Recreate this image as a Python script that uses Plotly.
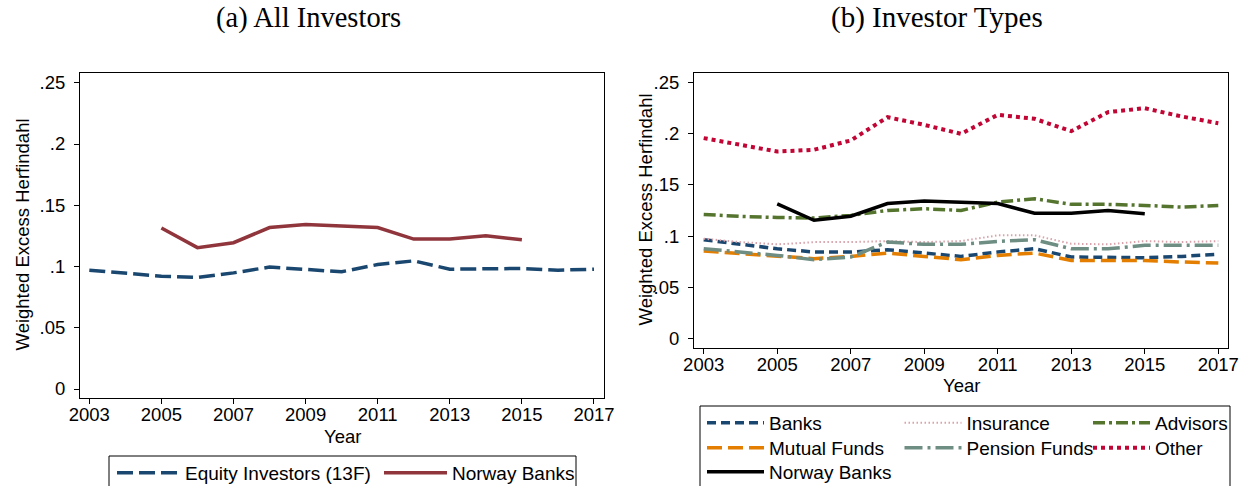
import plotly.graph_objects as go

years = list(range(2003, 2018))
years_nb = list(range(2005, 2016))

# Panel (a)
equity_13f = [0.0970, 0.0943, 0.0921, 0.0910, 0.0948, 0.0995, 0.0973, 0.0957,
              0.1016, 0.1046, 0.0978, 0.0980, 0.0984, 0.0970, 0.0978]
norway_banks = [0.1314, 0.1154, 0.1194, 0.1318, 0.1342, 0.1328, 0.1318,
                0.1224, 0.1224, 0.1250, 0.1219]

# Panel (b)
banks = [0.0964, 0.0919, 0.0876, 0.0844, 0.0844, 0.0866, 0.0834, 0.0801,
         0.0844, 0.0876, 0.0795, 0.0788, 0.0788, 0.0801, 0.0821]
insurance = [0.0974, 0.0941, 0.0919, 0.0941, 0.0941, 0.0951, 0.0941, 0.0951,
             0.1007, 0.1007, 0.0925, 0.0919, 0.0951, 0.0941, 0.0951]
advisors = [0.1212, 0.1192, 0.1182, 0.1176, 0.1202, 0.1251, 0.1267, 0.1251,
            0.1332, 0.1365, 0.1310, 0.1310, 0.1300, 0.1283, 0.1300]
mutual_funds = [0.0853, 0.0827, 0.0801, 0.0779, 0.0801, 0.0834, 0.0801, 0.0769,
                0.0811, 0.0834, 0.0762, 0.0762, 0.0762, 0.0746, 0.0736]
pension_funds = [0.0876, 0.0844, 0.0811, 0.0769, 0.0795, 0.0941, 0.0919, 0.0919,
                 0.0948, 0.0964, 0.0876, 0.0876, 0.0909, 0.0909, 0.0909]
other = [0.1958, 0.1896, 0.1827, 0.1844, 0.1935, 0.2163, 0.2088, 0.2000,
         0.2186, 0.2147, 0.2026, 0.2212, 0.2251, 0.2170, 0.2104]

ytick_vals = [0, 0.05, 0.1, 0.15, 0.2, 0.25]
ytick_text = ["0", ".05", ".1", ".15", ".2", ".25"]
xtick_vals = [2003, 2005, 2007, 2009, 2011, 2013, 2015, 2017]

W, H = 1245, 486
SANS = "Liberation Sans, Arial, sans-serif"
SERIF = "Liberation Serif, Times New Roman, serif"
FS = 18.5
LFS = 19


def px_x(v):
    return v / W


def px_y(v):
    return 1 - v / H


fig = go.Figure()

# Panel (a) traces: (name, x, y, line, legend id, legend item left px, row top px, itemwidth)
specs_a = [
    ("Equity Investors (13F)", years, equity_13f,
     dict(color="#1a476f", width=3.5, dash="16px,6px"), "legend", 112, 454, 63),
    ("Norway Banks", years_nb, norway_banks,
     dict(color="#90353b", width=3.5), "legend2", 379, 454, 63),
]
# Panel (b) traces
specs_b = [
    ("Banks", years, banks, dict(color="#1a476f", width=3.5, dash="9px,5px"),
     "legend3", 702, 404, 57),
    ("Insurance", years, insurance, dict(color="#d8a3aa", width=2, dash="1.5px,2.5px"),
     "legend4", 899.5, 404, 57),
    ("Advisors", years, advisors, dict(color="#55752f", width=3.5, dash="12px,4px,3px,4px"),
     "legend5", 1088, 404, 57),
    ("Mutual Funds", years, mutual_funds, dict(color="#e37e00", width=3.5, dash="15px,6px"),
     "legend6", 702, 429, 57),
    ("Pension Funds", years, pension_funds, dict(color="#6e8e84", width=3.5, dash="18px,5px,3px,5px"),
     "legend7", 899.5, 429, 57),
    ("Other", years, other, dict(color="#c10534", width=4, dash="4px,4px"),
     "legend8", 1088, 429, 57),
    ("Norway Banks", years_nb, norway_banks, dict(color="#000000", width=3.5),
     "legend9", 702, 453, 57),
]

legend_layouts = {}
for axes, specs in (("x", specs_a), ("x2", specs_b)):
    yax = "y" if axes == "x" else "y2"
    for name, xs, ys, ln, lg, lx, ly, iw in specs:
        fig.add_trace(go.Scatter(x=xs, y=ys, mode="lines", name=name, line=ln,
                                 xaxis=axes, yaxis=yax, legend=lg))
        legend_layouts[lg] = dict(x=px_x(lx), y=px_y(ly), xanchor="left", yanchor="top",
                                  orientation="v", borderwidth=0, bgcolor="rgba(0,0,0,0)",
                                  font=dict(family=SANS, size=LFS, color="black"),
                                  itemwidth=iw)

axis_common = dict(showline=True, linecolor="black", linewidth=1, mirror=True,
                   ticks="outside", ticklen=5, tickwidth=1, tickcolor="black",
                   showgrid=False, zeroline=False, automargin=False,
                   tickfont=dict(family=SANS, size=FS, color="black"))

fig.update_layout(
    width=W, height=H,
    margin=dict(l=0, r=0, t=0, b=0, autoexpand=False),
    paper_bgcolor="white", plot_bgcolor="white",
    xaxis=dict(domain=[px_x(80), px_x(604.3)], range=[2002.742, 2017.286],
               tickvals=xtick_vals, anchor="y", ticklabelstandoff=-5, **axis_common),
    yaxis=dict(domain=[px_y(397.7), px_y(72.7)], range=[-0.0071, 0.2582],
               tickvals=ytick_vals, ticktext=ytick_text, anchor="x",
               ticklabelstandoff=5, **axis_common),
    xaxis2=dict(domain=[px_x(694), px_x(1228)], range=[2002.736, 2017.264],
                tickvals=xtick_vals, anchor="y2", ticklabelstandoff=-5, **axis_common),
    yaxis2=dict(domain=[px_y(347.5), px_y(73)], range=[-0.009, 0.2595],
                tickvals=ytick_vals, ticktext=ytick_text, anchor="x2",
                ticklabelstandoff=5, **axis_common),
    showlegend=True,
    shapes=[
        dict(type="rect", xref="paper", yref="paper",
             x0=px_x(109), x1=px_x(576), y0=px_y(495), y1=px_y(456),
             line=dict(color="black", width=1), fillcolor="rgba(0,0,0,0)", layer="below"),
        dict(type="rect", xref="paper", yref="paper",
             x0=px_x(700), x1=px_x(1230), y0=px_y(495), y1=px_y(406),
             line=dict(color="black", width=1), fillcolor="rgba(0,0,0,0)", layer="below"),
    ],
    **legend_layouts,
)

annos = [
    dict(text="(a) All Investors", x=px_x(308), y=px_y(18), font=dict(family=SERIF, size=28.5)),
    dict(text="(b) Investor Types", x=px_x(937), y=px_y(18), font=dict(family=SERIF, size=29)),
    dict(text="Year", x=px_x(342), y=px_y(436), font=dict(family=SANS, size=FS)),
    dict(text="Year", x=px_x(961), y=px_y(385), font=dict(family=SANS, size=FS)),
    dict(text="Weighted Excess Herfindahl", x=px_x(21.5), y=px_y(235), textangle=-90,
         font=dict(family=SANS, size=FS)),
    dict(text="Weighted Excess Herfindahl", x=px_x(645.5), y=px_y(210), textangle=-90,
         font=dict(family=SANS, size=FS)),
]
for a in annos:
    a.update(xref="paper", yref="paper", showarrow=False, xanchor="center", yanchor="middle")
    a["font"]["color"] = "black"
fig.update_layout(annotations=annos)

fig.write_html("out.html", config={"displayModeBar": False},
               post_script="document.body.style.margin='0px';")
